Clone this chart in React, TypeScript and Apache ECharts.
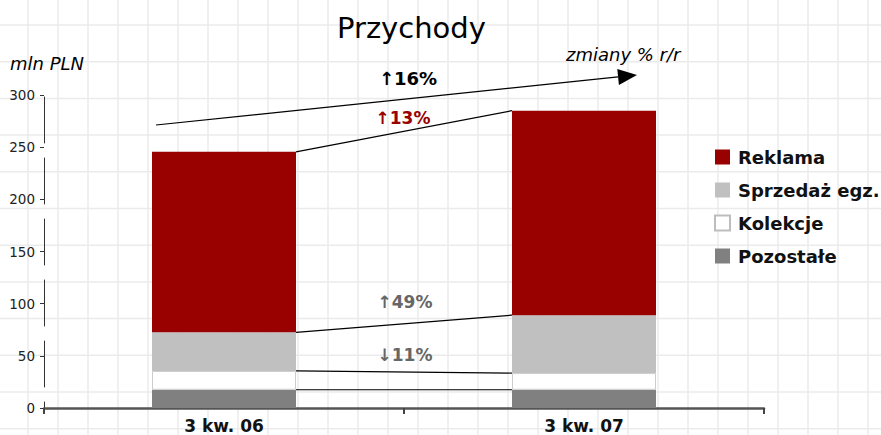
import React, { useEffect, useRef } from "react";
import * as echarts from "echarts";

const categories = ["3 kw. 06", "3 kw. 07"];
const pozostale = [17.5, 17.5];
const kolekcje = [18, 16];
const sprzedaz = [37, 55.5];
const reklama = [173, 196];
const yTicks = [0, 50, 100, 150, 200, 250, 300];
const changeTotal = "\u219116%";
const changeReklama = "\u219113%";
const changeSprzedaz = "\u219149%";
const changeKolekcje = "\u219311%";

const BAR_RATIO = 0.4;
const FONT = "DejaVu Sans, Verdana, sans-serif";

function buildBackground() {
  const els: any[] = [];
  for (let x = 28; x < 881; x += 30) {
    els.push({
      type: "line",
      z: -10,
      silent: true,
      shape: { x1: x, y1: 0, x2: x, y2: 435 },
      style: { stroke: "#ebebeb", lineWidth: 1.5 },
    });
  }
  for (let y = 25; y < 435; y += 36.7) {
    els.push({
      type: "line",
      z: -10,
      silent: true,
      shape: { x1: 0, y1: y, x2: 881, y2: y },
      style: { stroke: "#ebebeb", lineWidth: 1.5 },
    });
  }
  return els;
}

function arrowElements() {
  const sx = 156, sy = 125, tx = 637, ty = 75;
  const dx = tx - sx, dy = ty - sy;
  const len = Math.sqrt(dx * dx + dy * dy);
  const ux = dx / len, uy = dy / len;
  const headL = 19, headW = 8;
  const bx = tx - ux * headL, by = ty - uy * headL;
  const nx = -uy, ny = ux;
  return [
    {
      type: "line",
      z: 5,
      shape: { x1: sx, y1: sy, x2: bx, y2: by },
      style: { stroke: "#000", lineWidth: 1.2 },
    },
    {
      type: "polygon",
      z: 5,
      shape: {
        points: [
          [tx, ty],
          [bx + nx * headW, by + ny * headW],
          [bx - nx * headW, by - ny * headW],
        ],
      },
      style: { fill: "#000" },
    },
  ];
}

function txt(text: string, x: number, y: number, font: string, fill: string, align = "center") {
  return {
    type: "text",
    z: 6,
    x,
    y,
    style: {
      text,
      font,
      fill,
      align,
      verticalAlign: "middle",
      textAlign: align,
      textVerticalAlign: "middle",
    },
  };
}

export default function App() {
  const ref = useRef<HTMLDivElement>(null);
  useEffect(() => {
    document.body.style.margin = "0";
    const chart = echarts.init(ref.current!, null, { renderer: "svg" });

    const cum1 = pozostale.map((v) => v);
    const cum2 = cum1.map((v, i) => v + kolekcje[i]);
    const cum3 = cum2.map((v, i) => v + sprzedaz[i]);
    const cum4 = cum3.map((v, i) => v + reklama[i]);
    const connectors = [cum1, cum2, cum3, cum4].map((c) => [0, c[0], c[1]]);

    const barBase = {
      type: "bar",
      stack: "total",
      barWidth: BAR_RATIO * 100 + "%",
    };

    chart.setOption({
      animation: false,
      backgroundColor: "#ffffff",
      title: {
        text: "Przychody",
        left: 332,
        top: 8,
        textStyle: {
          fontFamily: FONT,
          fontSize: 29,
          fontWeight: "normal",
          color: "#000",
        },
      },
      legend: {
        orient: "vertical",
        left: 709,
        top: 143,
        itemWidth: 15,
        itemHeight: 15,
        itemGap: 15,
        icon: "rect",
        textStyle: {
          fontFamily: FONT,
          fontSize: 18,
          lineHeight: 18,
          fontWeight: "bold",
          color: "#111",
          padding: [0, 0, 0, 3],
        },
        data: [
          { name: "Reklama", itemStyle: { color: "#990000" } },
          { name: "Sprzedaż egz.", itemStyle: { color: "#c0c0c0" } },
          {
            name: "Kolekcje",
            itemStyle: { color: "#ffffff", borderColor: "#bdbdbd", borderWidth: 2 },
          },
          { name: "Pozostałe", itemStyle: { color: "#808080" } },
        ],
      },
      grid: { left: 44, right: 117, top: 95, bottom: 27, containLabel: false },
      xAxis: {
        type: "category",
        data: categories,
        boundaryGap: true,
        axisLine: { lineStyle: { color: "#555", width: 2.5 } },
        axisTick: { show: true, length: 6, lineStyle: { color: "#444", width: 2 } },
        axisLabel: {
          fontFamily: FONT,
          fontSize: 17,
          fontWeight: "bold",
          color: "#111",
          margin: 9,
        },
        splitLine: { show: false },
      },
      yAxis: {
        type: "value",
        min: yTicks[0],
        max: yTicks[yTicks.length - 1],
        interval: 50,
        axisLine: {
          show: true,
          lineStyle: { color: "#333", width: 1, type: [46, 15], dashOffset: 40 },
        },
        axisTick: { show: true, length: 4, lineStyle: { color: "#333" } },
        axisLabel: { fontFamily: FONT, fontSize: 13.5, color: "#222", margin: 9 },
        splitLine: { show: false },
      },
      series: [
        { ...barBase, name: "Pozostałe", data: pozostale, itemStyle: { color: "#808080" } },
        {
          ...barBase,
          name: "Kolekcje",
          data: kolekcje,
          itemStyle: { color: "#ffffff", borderColor: "#cccccc", borderWidth: 1 },
        },
        { ...barBase, name: "Sprzedaż egz.", data: sprzedaz, itemStyle: { color: "#c0c0c0" } },
        { ...barBase, name: "Reklama", data: reklama, itemStyle: { color: "#990000" } },
        {
          type: "custom",
          name: "connectors",
          z: 5,
          silent: true,
          encode: { x: 0, y: [1, 2] },
          data: connectors,
          renderItem: (params: any, api: any) => {
            const p0 = api.coord([0, api.value(1)]);
            const p1 = api.coord([1, api.value(2)]);
            const band = api.size([1, 0])[0];
            const half = (band * BAR_RATIO) / 2;
            return {
              type: "line",
              shape: { x1: p0[0] + half, y1: p0[1], x2: p1[0] - half, y2: p1[1] },
              style: { stroke: "#000", lineWidth: 1.2 },
            };
          },
        },
      ],
      graphic: [
        ...buildBackground(),
        ...arrowElements(),
        txt(changeTotal, 408, 78, `bold 18px ${FONT}`, "#000"),
        txt(changeReklama, 403, 118, `bold 17px ${FONT}`, "#990000"),
        txt(changeSprzedaz, 405, 302, `bold 17px ${FONT}`, "#666666"),
        txt(changeKolekcje, 405, 355, `bold 17px ${FONT}`, "#666666"),
        txt("zmiany % r/r", 566, 54, `italic 18px ${FONT}`, "#000", "left"),
        txt("mln PLN", 10, 63, `italic 18px ${FONT}`, "#000", "left"),
      ],
    });
    return () => chart.dispose();
  }, []);
  return <div ref={ref} style={{ width: 881, height: 435 }} />;
}
